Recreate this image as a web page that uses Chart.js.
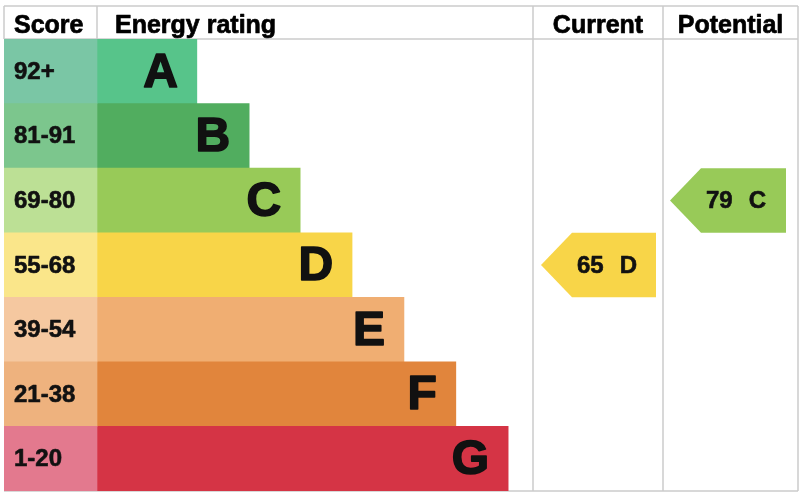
<!DOCTYPE html>
<html>
<head>
<meta charset="utf-8">
<script src="https://cdn.jsdelivr.net/npm/chart.js@4.4.0/dist/chart.umd.min.js"></script>
<style>
  html, body { margin: 0; padding: 0; background: #fff; }
  #wrap { width: 800px; height: 495px; }
</style>
</head>
<body>
<div id="wrap"><canvas id="epc"></canvas></div>
<script>
'use strict';

const bands = ['A', 'B', 'C', 'D', 'E', 'F', 'G'];
const scoreRanges = ['92+', '81-91', '69-80', '55-68', '39-54', '21-38', '1-20'];
// length of each band bar, as % of the rating column
const barLengths = [22.9, 34.9, 46.6, 58.5, 70.4, 82.3, 94.3];
const currentScore = 65;
const currentBand = 'D';
const potentialScore = 79;
const potentialBand = 'C';

const barColors = ['#57c48a', '#51ad5f', '#98ca58', '#f8d548', '#f0ae72', '#e1853c', '#d53445'];
const cellColors = ['#7ac6a5', '#7cc68d', '#bce095', '#fae68a', '#f5c8a0', '#eeb27e', '#e3798e'];

// table columns in x axis units
const cols = { score: [0, 93], rating: [93, 529], current: [529, 659], potential: [659, 794] };
const headerH = 33;
const lineColor = '#cbcbcb';
const FONT = '"Liberation Sans", Arial, sans-serif';

function arrowData(band, col, inL, inR) {
  return bands.map(b => b === band ? [col[0] + inL, col[1] - inR] : null);
}
function colorOf(band) {
  return barColors[bands.indexOf(band)];
}
// bold text, thickened a little to look like the heavier original face
function heavyText(ctx, str, x, y, w) {
  ctx.lineWidth = w;
  ctx.lineJoin = 'round';
  ctx.strokeStyle = ctx.fillStyle;
  ctx.strokeText(str, x, y);
  ctx.fillText(str, x, y);
}

const ratingW = cols.rating[1] - cols.rating[0];

const tablePlugin = {
  id: 'table',
  beforeDatasetsDraw(chart) {
    const ctx = chart.ctx;
    const x = chart.scales.x;
    const area = chart.chartArea;
    const top = area.top - headerH;
    const px = v => x.getPixelForValue(v);
    ctx.save();
    ctx.strokeStyle = lineColor;
    ctx.lineWidth = 1.5;
    ctx.beginPath();
    // horizontal rules
    [top, area.top, area.bottom].forEach(y => {
      ctx.moveTo(px(0), y);
      ctx.lineTo(px(cols.potential[1]), y);
    });
    // header-only dividers
    [0, cols.score[1]].forEach(v => {
      ctx.moveTo(px(v), top);
      ctx.lineTo(px(v), area.top);
    });
    // full height dividers
    [cols.current[0], cols.potential[0], cols.potential[1]].forEach(v => {
      ctx.moveTo(px(v), top);
      ctx.lineTo(px(v), area.bottom);
    });
    ctx.stroke();

    // header text
    ctx.fillStyle = '#000';
    ctx.font = 'bold 25px ' + FONT;
    ctx.textBaseline = 'alphabetic';
    const base = top + 27;
    ctx.textAlign = 'left';
    heavyText(ctx, 'Score', px(cols.score[0] + 10), base, 0.7);
    heavyText(ctx, 'Energy rating', px(cols.rating[0] + 18), base, 0.7);
    ctx.textAlign = 'center';
    heavyText(ctx, 'Current', px((cols.current[0] + cols.current[1]) / 2), base, 0.7);
    heavyText(ctx, 'Potential', px((cols.potential[0] + cols.potential[1]) / 2), base, 0.7);
    ctx.restore();
  },
  afterDatasetsDraw(chart) {
    const ctx = chart.ctx;
    ctx.save();
    ctx.fillStyle = '#111';

    // score range labels
    const cells = chart.getDatasetMeta(0).data;
    ctx.font = 'bold 24px ' + FONT;
    ctx.textAlign = 'left';
    ctx.textBaseline = 'middle';
    cells.forEach((el, i) => {
      const p = el.getProps(['base', 'y'], true);
      heavyText(ctx, scoreRanges[i], p.base + 10, p.y + 1, 0.6);
    });

    // band letters
    const bars = chart.getDatasetMeta(1).data;
    ctx.font = 'bold 48px ' + FONT;
    ctx.textAlign = 'right';
    bars.forEach((el, i) => {
      const p = el.getProps(['x', 'y'], true);
      heavyText(ctx, bands[i], p.x - 19, p.y + 2, 1.6);
    });

    // current / potential arrows
    [2, 3].forEach(di => {
      const ds = chart.data.datasets[di];
      chart.getDatasetMeta(di).data.forEach((el, i) => {
        if (ds.data[i] == null) return;
        const p = el.getProps(['x', 'y', 'base', 'height'], true);
        const h = p.height / 2;
        const tw = 31;
        ctx.fillStyle = ds.arrowColor;
        ctx.beginPath();
        ctx.moveTo(p.base, p.y);
        ctx.lineTo(p.base + tw, p.y - h);
        ctx.lineTo(p.x, p.y - h);
        ctx.lineTo(p.x, p.y + h);
        ctx.lineTo(p.base + tw, p.y + h);
        ctx.closePath();
        ctx.fill();

        ctx.fillStyle = '#111';
        ctx.font = 'bold 24px ' + FONT;
        ctx.textAlign = 'left';
        const tx = p.base + tw + 5;
        const num = String(ds.score);
        heavyText(ctx, num, tx, p.y + 1, 0.6);
        heavyText(ctx, ds.band, tx + ctx.measureText(num).width + 16, p.y + 1, 0.6);
      });
    });
    ctx.restore();
  }
};

const common = { grouped: false, barPercentage: 1, categoryPercentage: 1, borderWidth: 0 };

new Chart(document.getElementById('epc'), {
  type: 'bar',
  data: {
    labels: bands,
    datasets: [
      Object.assign({
        label: 'Score',
        data: bands.map(() => cols.score.slice()),
        backgroundColor: cellColors
      }, common),
      Object.assign({
        label: 'Energy rating',
        data: barLengths.map(p => [cols.rating[0], cols.rating[0] + p * ratingW / 100]),
        backgroundColor: barColors
      }, common),
      Object.assign({
        label: 'Current',
        data: arrowData(currentBand, cols.current, 8, 7),
        backgroundColor: 'rgba(0,0,0,0)',
        arrowColor: colorOf(currentBand),
        score: currentScore,
        band: currentBand
      }, common),
      Object.assign({
        label: 'Potential',
        data: arrowData(potentialBand, cols.potential, 7, 12),
        backgroundColor: 'rgba(0,0,0,0)',
        arrowColor: colorOf(potentialBand),
        score: potentialScore,
        band: potentialBand
      }, common)
    ]
  },
  options: {
    indexAxis: 'y',
    responsive: true,
    maintainAspectRatio: false,
    animation: false,
    layout: { padding: { top: 39, left: 4, right: 2, bottom: 4 } },
    plugins: { legend: { display: false }, tooltip: { enabled: false } },
    scales: {
      x: { type: 'linear', min: 0, max: cols.potential[1], display: false },
      y: { type: 'category', display: false }
    }
  },
  plugins: [tablePlugin]
});
</script>
</body>
</html>
